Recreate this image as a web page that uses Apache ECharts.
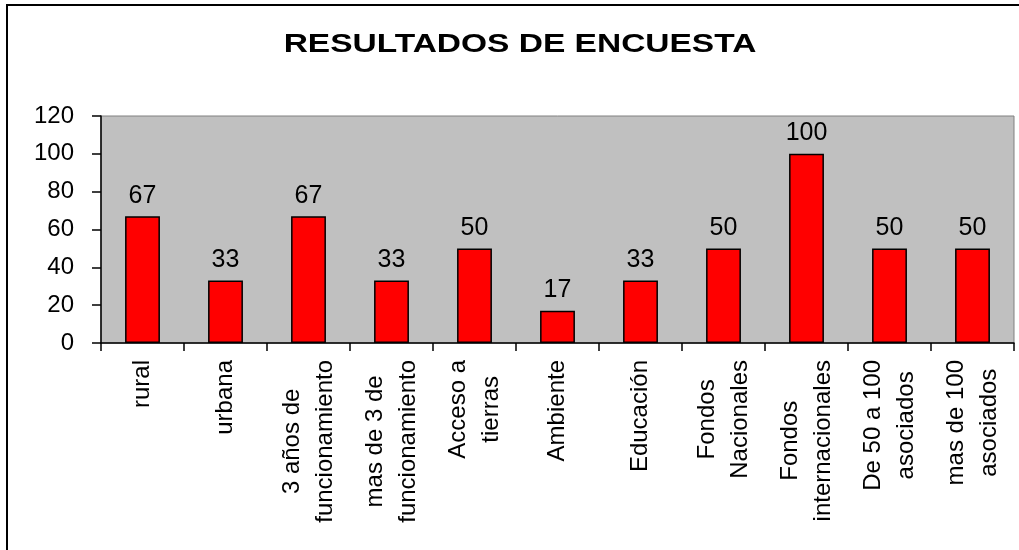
<!DOCTYPE html>
<html lang="es">
<head>
    <meta charset="UTF-8">
    <title>Resultados de encuesta</title>
    <script src="https://cdn.jsdelivr.net/npm/echarts@6/dist/echarts.min.js"></script>
</head>
<body style="margin: 0; background-color: #FFFFFF">
<div id="container" style="width: 1019px; height: 550px"></div>
<script type="text/javascript">
    // datos
    const categorias = ['rural', 'urbana', '3 años de\nfuncionamiento', 'mas de 3 de\nfuncionamiento',
        'Acceso a\ntierras', 'Ambiente', 'Educación', 'Fondos\nNacionales',
        'Fondos\ninternacionales', 'De 50 a 100\nasociados', 'mas de 100\nasociados'];
    const valores = [67, 33, 67, 33, 50, 17, 33, 50, 100, 50, 50];
    const titulo = 'RESULTADOS DE ENCUESTA';

    let myChart = echarts.init(document.getElementById('container'));
    let option = {
        backgroundColor: '#FFFFFF',
        textStyle: {fontFamily: 'Arial, "Liberation Sans", sans-serif', color: '#000'},
        graphic: [
            {
                // marco del grafico
                type: 'rect',
                shape: {x: 7, y: 5, width: 1030, height: 570},
                style: {fill: 'none', stroke: '#000', lineWidth: 2},
                silent: true
            },
            {
                type: 'text',
                x: 520, y: 45,
                scaleX: 1.34,
                style: {
                    text: titulo,
                    font: 'bold 25px Arial, "Liberation Sans", sans-serif',
                    fill: '#000',
                    align: 'center',
                    verticalAlign: 'middle'
                }
            }
        ],
        grid: {
            left: 101, top: 116, right: 5, bottom: 207,
            show: true,
            backgroundColor: '#C0C0C0',
            borderColor: '#808080',
            borderWidth: 1
        },
        xAxis: {
            type: 'category',
            data: categorias,
            axisLine: {lineStyle: {color: '#000', width: 1.5}},
            axisTick: {show: true, length: 8, alignWithLabel: false, lineStyle: {color: '#000', width: 1.5}},
            axisLabel: {
                rotate: 90,
                interval: 0,
                margin: 17,
                color: '#000',
                formatter: function (v) {
                    return v.split('\n').map(function (s) { return '{a|' + s + '}'; }).join('\n');
                },
                rich: {
                    a: {align: 'center', fontSize: 24, lineHeight: 33, color: '#000'}
                }
            }
        },
        yAxis: {
            type: 'value',
            min: 0, max: 120, interval: 20,
            splitLine: {show: false},
            axisLine: {show: true, lineStyle: {color: '#000', width: 1.5}},
            axisTick: {show: true, length: 9, lineStyle: {color: '#000', width: 1.5}},
            axisLabel: {fontSize: 24, color: '#000', margin: 27}
        },
        series: [{
            type: 'bar',
            data: valores,
            barWidth: '42%',
            itemStyle: {color: '#FF0000', borderColor: '#000', borderWidth: 1.5},
            label: {show: true, position: 'top', distance: 8, fontSize: 25, color: '#000'}
        }]
    };
    myChart.setOption(option);
</script>
</body>
</html>
